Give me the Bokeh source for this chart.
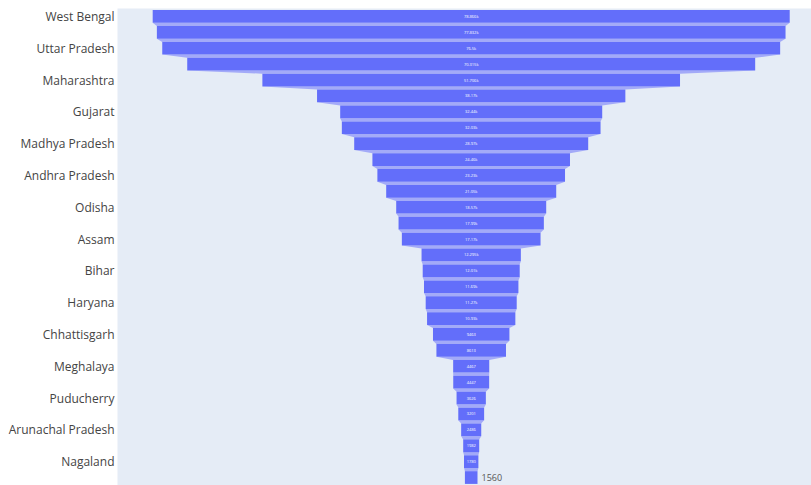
from bokeh.plotting import figure
from bokeh.models import ColumnDataSource, Range1d, FixedTicker
from bokeh.core.properties import value
from bokeh.embed import file_html
from bokeh.resources import INLINE

# States ordered from largest to smallest value
states = [
    "West Bengal", "Tamil Nadu", "Uttar Pradesh", "Karnataka", "Maharashtra",
    "Rajasthan", "Gujarat", "Kerala", "Madhya Pradesh", "Telangana",
    "Andhra Pradesh", "Jharkhand", "Odisha", "Punjab", "Assam",
    "Uttarakhand", "Bihar", "Himachal Pradesh", "Haryana", "Jammu and Kashmir",
    "Chhattisgarh", "Tripura", "Meghalaya", "Goa", "Puducherry",
    "Manipur", "Arunachal Pradesh", "Mizoram", "Nagaland", "Sikkim",
]
counts = [
    78866, 77832, 76500, 70315, 51706,
    38170, 32440, 32030, 28970, 24460,
    23230, 21050, 18570, 17990, 17170,
    12295, 12010, 11690, 11270, 10930,
    9463, 8613, 4467, 4447, 3626,
    3201, 2486, 1982, 1780, 1560,
]

BAR = "#636efa"
CONNECT = "#a3aaf8"
BAR_H = 0.8


def fmt(v):
    return f"{v / 1000:g}k" if v >= 10000 else str(v)


idx = list(range(len(states)))
src = ColumnDataSource(dict(
    y=idx,
    left=[-v / 2 for v in counts],
    right=[v / 2 for v in counts],
    label=[fmt(v) for v in counts],
    name=states,
))

p = figure(
    width=811, height=485,
    x_range=Range1d(-43790, 42130),
    y_range=Range1d(len(states) - 0.5, -0.5),
    output_backend="svg", toolbar_location=None,
    min_border_left=117, min_border_right=0,
    min_border_top=8, min_border_bottom=0,
)
p.background_fill_color = "#e5ecf6"
p.border_fill_color = "white"
p.outline_line_color = None
p.grid.visible = False
p.xaxis.visible = False

# connectors between consecutive bars
xs, ys = [], []
for i in range(len(counts) - 1):
    a, b = counts[i] / 2, counts[i + 1] / 2
    y0, y1 = i + BAR_H / 2, i + 1 - BAR_H / 2
    xs.append([-a, a, b, -b])
    ys.append([y0, y0, y1, y1])
p.patches(xs, ys, fill_color=CONNECT, line_color=None)

p.hbar(y="y", left="left", right="right", height=BAR_H, source=src,
       fill_color=BAR, line_color=None)

# value labels inside the bars, except the last one which sits outside
inside = ColumnDataSource(dict(
    x=[0] * (len(counts) - 1),
    y=idx[:-1],
    t=[fmt(v) for v in counts[:-1]],
))
p.text(x="x", y="y", text="t", source=inside, text_color="white",
       text_font=value("Open Sans"), text_font_size="4px",
       text_align="center", text_baseline="middle")

last = ColumnDataSource(dict(x=[counts[-1] / 2], y=[idx[-1]], t=[fmt(counts[-1])]))
p.text(x="x", y="y", text="t", source=last, text_color="#555555",
       text_font=value("Open Sans"), text_font_size="9px",
       text_align="left", text_baseline="middle", x_offset=4)

ax = p.yaxis[0]
ax.ticker = FixedTicker(ticks=idx[::2])
ax.major_label_overrides = {i: states[i] for i in idx}
ax.axis_line_color = None
ax.major_tick_line_color = None
ax.minor_tick_line_color = None
ax.major_tick_out = 0
ax.major_label_standoff = 3
ax.major_label_text_font = "Open Sans"
ax.major_label_text_font_size = "12px"
ax.major_label_text_color = "#444444"

open("out.html", "w").write(file_html(p, INLINE))
